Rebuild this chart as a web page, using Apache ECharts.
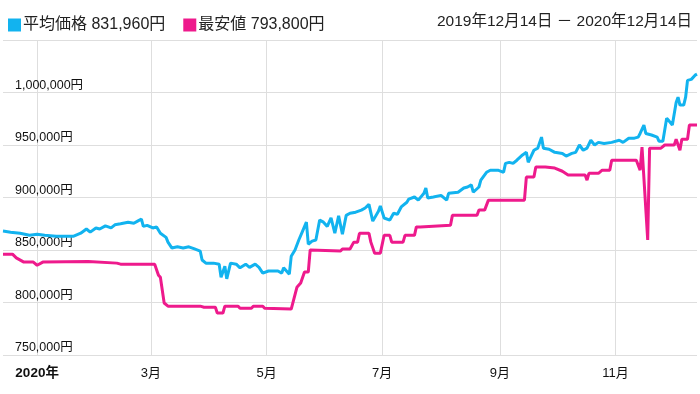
<!DOCTYPE html>
<html>
<head>
<meta charset="utf-8">
<script src="https://cdn.jsdelivr.net/npm/echarts@6/dist/echarts.min.js"></script>
<style>
html,body{margin:0;padding:0;background:#fff;}
#c{width:700px;height:394px;}
</style>
</head>
<body>
<div id="c"></div>
<script>
// ---- data ----
const avgName = '平均価格 831,960円';
const minName = '最安値 793,800円';
const rangeText = '2019年12月14日 － 2020年12月14日';
const yTicks = [750000, 800000, 850000, 900000, 950000, 1000000, 1050000];

const avgDates = ['2019-12-14','2019-12-18','2019-12-23','2019-12-28','2020-01-01','2020-01-05','2020-01-11','2020-01-16','2020-01-20','2020-01-24','2020-01-27','2020-01-29','2020-02-01','2020-02-03','2020-02-06','2020-02-09','2020-02-11','2020-02-14','2020-02-18','2020-02-21','2020-02-23','2020-02-25','2020-02-26','2020-02-28','2020-03-02','2020-03-04','2020-03-06','2020-03-09','2020-03-10','2020-03-12','2020-03-15','2020-03-18','2020-03-21','2020-03-24','2020-03-27','2020-03-28','2020-03-30','2020-04-03','2020-04-06','2020-04-07','2020-04-09','2020-04-10','2020-04-12','2020-04-15','2020-04-17','2020-04-20','2020-04-22','2020-04-25','2020-04-27','2020-04-29','2020-05-02','2020-05-04','2020-05-07','2020-05-09','2020-05-10','2020-05-13','2020-05-14','2020-05-16','2020-05-18','2020-05-20','2020-05-22','2020-05-23','2020-05-25','2020-05-27','2020-05-29','2020-05-31','2020-06-02','2020-06-04','2020-06-06','2020-06-08','2020-06-10','2020-06-12','2020-06-14','2020-06-17','2020-06-20','2020-06-22','2020-06-24','2020-06-26','2020-06-29','2020-06-30','2020-07-02','2020-07-05','2020-07-07','2020-07-09','2020-07-11','2020-07-14','2020-07-15','2020-07-18','2020-07-20','2020-07-23','2020-07-24','2020-07-25','2020-07-28','2020-08-01','2020-08-04','2020-08-05','2020-08-10','2020-08-13','2020-08-15','2020-08-17','2020-08-18','2020-08-21','2020-08-22','2020-08-25','2020-08-27','2020-08-31','2020-09-03','2020-09-04','2020-09-06','2020-09-08','2020-09-10','2020-09-13','2020-09-15','2020-09-16','2020-09-19','2020-09-21','2020-09-23','2020-09-24','2020-09-27','2020-09-30','2020-10-04','2020-10-06','2020-10-09','2020-10-11','2020-10-13','2020-10-15','2020-10-17','2020-10-19','2020-10-21','2020-10-23','2020-10-26','2020-10-30','2020-11-03','2020-11-05','2020-11-08','2020-11-11','2020-11-13','2020-11-14','2020-11-16','2020-11-17','2020-11-20','2020-11-23','2020-11-24','2020-11-26','2020-11-28','2020-11-29','2020-12-01','2020-12-03','2020-12-04','2020-12-05','2020-12-07','2020-12-08','2020-12-09','2020-12-11','2020-12-13','2020-12-14'];
const avgValues = [868000,867000,866000,864000,865000,864000,863000,863000,863000,866000,870000,867000,871000,870000,873000,871000,874000,875000,876500,875500,877500,879500,872500,873500,871000,872000,866000,862000,857500,852000,853000,852000,853000,851000,849000,840500,837500,837500,836500,824000,834500,822500,837500,836500,833000,836500,833500,836500,833500,828000,830000,830000,830000,828000,833000,827000,844000,850000,859500,868000,876500,855500,858500,859500,878500,876500,872500,880500,866000,882500,865000,883000,885000,886000,888000,890000,893500,877500,887000,892000,880500,878500,885000,884000,891000,895500,898500,900500,897500,904000,909000,899500,900500,902000,897500,904000,905000,909000,910000,912000,905000,910000,916500,924000,926000,926000,924000,932500,933500,932500,935500,940500,943000,933500,945000,947000,957500,947000,946000,943000,942000,939500,942000,943000,950000,945000,947000,954500,950000,952500,951500,952500,954500,952500,956500,956500,957500,961000,969000,961000,959500,957500,953500,953500,975500,973500,969000,990500,995500,988000,988000,995500,1011500,1012500,1016500,1017500];

const minDates = ['2019-12-14','2019-12-19','2019-12-21','2019-12-25','2019-12-30','2020-01-01','2020-01-04','2020-01-28','2020-01-29','2020-02-12','2020-02-14','2020-03-03','2020-03-05','2020-03-06','2020-03-08','2020-03-10','2020-03-27','2020-03-29','2020-04-04','2020-04-05','2020-04-08','2020-04-09','2020-04-16','2020-04-17','2020-04-23','2020-04-24','2020-04-29','2020-04-30','2020-05-14','2020-05-15','2020-05-17','2020-05-19','2020-05-21','2020-05-23','2020-05-24','2020-06-09','2020-06-10','2020-06-14','2020-06-16','2020-06-18','2020-06-19','2020-06-24','2020-06-25','2020-06-27','2020-06-30','2020-07-02','2020-07-05','2020-07-06','2020-07-12','2020-07-13','2020-07-18','2020-07-19','2020-07-21','2020-07-22','2020-08-06','2020-08-07','2020-08-20','2020-08-21','2020-08-24','2020-08-26','2020-09-14','2020-09-15','2020-09-19','2020-09-20','2020-09-25','2020-09-30','2020-10-04','2020-10-07','2020-10-16','2020-10-17','2020-10-18','2020-10-23','2020-10-25','2020-10-29','2020-10-30','2020-11-12','2020-11-14','2020-11-15','2020-11-16','2020-11-18','2020-11-19','2020-11-25','2020-11-27','2020-12-02','2020-12-03','2020-12-04','2020-12-05','2020-12-06','2020-12-09','2020-12-10','2020-12-14'];
const minValues = [846000,846000,842500,838500,838500,835500,838500,839000,837500,837500,836500,836500,826000,824000,799500,796500,796500,795500,795500,790000,790000,796500,796500,794500,794500,796500,796500,794500,793800,795500,814500,818500,829000,829000,850000,849000,851000,851000,857500,857500,866000,866000,857500,847000,847000,864000,864000,857500,857500,864000,864000,872000,872000,873500,873500,883000,883000,888000,888000,897500,897500,919500,919500,929000,929000,928000,925000,921500,921500,916500,923000,923000,926000,926000,935500,935500,926000,948000,948000,859500,947000,947000,950000,950000,955500,955500,945000,955500,955500,969000,969000];

// ---- chart ----
const FONT = "'Liberation Sans', 'Noto Sans CJK JP', sans-serif";
const pair = (ds, vs) => ds.map((d, i) => [d, vs[i]]);
const chart = echarts.init(document.getElementById('c'), null, {renderer: 'canvas'});
chart.setOption({
  animation: false,
  backgroundColor: '#fff',
  textStyle: {fontFamily: FONT},
  title: {
    text: rangeText, right: 3, top: 9,
    textStyle: {fontFamily: FONT, fontSize: 15.5, fontWeight: 'normal', color: '#222'}
  },
  legend: {
    left: 3, top: 12, icon: 'rect', itemWidth: 13, itemHeight: 13, itemGap: 18,
    textStyle: {fontFamily: FONT, fontSize: 16, color: '#222', padding: [0,0,0,-3]},
    data: [avgName, minName]
  },
  grid: {left: 3, right: 3, top: 40, bottom: 39, containLabel: false},
  xAxis: {
    type: 'time', min: '2019-12-14', max: '2020-12-14',
    axisLine: {show: false}, axisTick: {show: false},
    splitLine: {show: true, showMinLine: false, showMaxLine: false, lineStyle: {color: '#dedede', width: 1}},
    axisLabel: {
      fontFamily: FONT, fontSize: 13, color: '#111', margin: 12,
      formatter: function (v) {
        const d = new Date(v);
        if (d.getDate() !== 1) return '';
        if (d.getMonth() === 0) return '{b|' + d.getFullYear() + '年}';
        return (d.getMonth() + 1) + '月';
      },
      rich: {b: {fontWeight: 'bold', fontSize: 13.5, color: '#111', fontFamily: FONT}}
    }
  },
  yAxis: {
    type: 'value', min: yTicks[0], max: yTicks[yTicks.length - 1], interval: 50000,
    axisLine: {show: false}, axisTick: {show: false},
    splitLine: {show: true, lineStyle: {color: '#dedede', width: 1}},
    axisLabel: {
      inside: true, margin: 12, verticalAlign: 'bottom', padding: [0,0,1,0],
      fontFamily: FONT, fontSize: 12.5, color: '#111',
      formatter: v => v >= 1050000 ? '' : v.toLocaleString('en-US') + '円'
    }
  },
  series: [
    {name: avgName, type: 'line', data: pair(avgDates, avgValues), showSymbol: false,
     lineStyle: {width: 3, color: '#12b3ef'}, itemStyle: {color: '#12b3ef'}, z: 3},
    {name: minName, type: 'line', data: pair(minDates, minValues), showSymbol: false,
     lineStyle: {width: 3, color: '#ee1a8c'}, itemStyle: {color: '#ee1a8c'}, z: 4}
  ]
});
</script>
</body>
</html>
